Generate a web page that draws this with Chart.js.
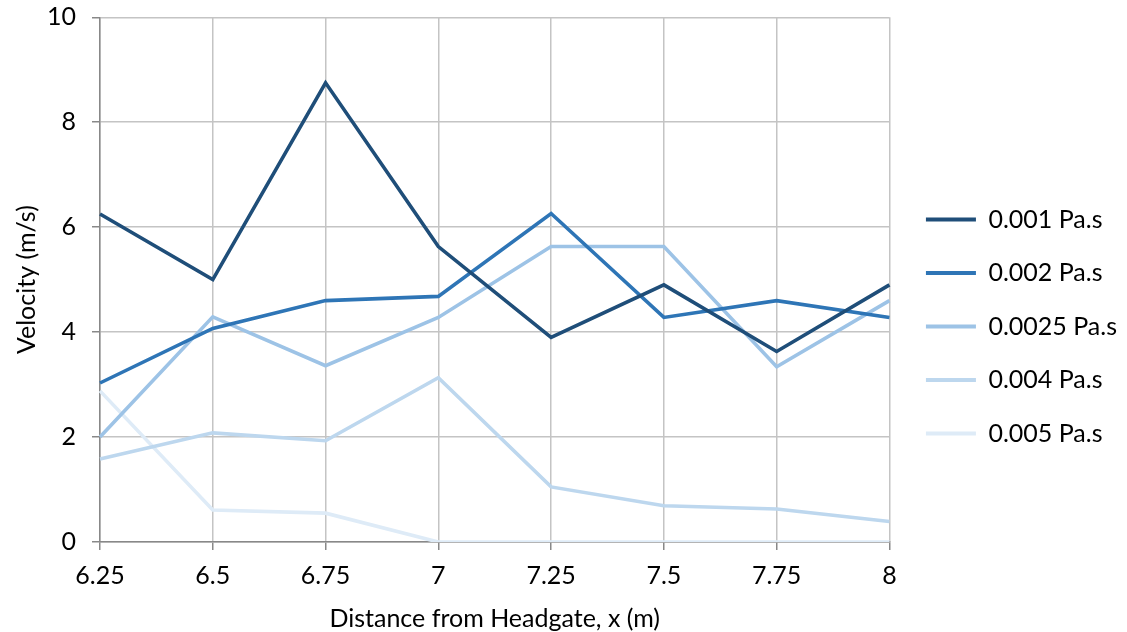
<!DOCTYPE html>
<html lang="en">
<head>
    <meta charset="UTF-8">
    <title>Velocity vs distance</title>
    <script src="https://cdn.jsdelivr.net/npm/chart.js"></script>
    <style>
        html, body {
            margin: 0;
            padding: 0;
            background: #fff;
        }
        #wrap {
            width: 1127px;
            height: 632px;
        }
    </style>
</head>
<body>
    <div id="wrap"><canvas id="chart"></canvas></div>

    <script>
        // distance from headgate (m)
        const distances = ["6.25", "6.5", "6.75", "7", "7.25", "7.5", "7.75", "8"];

        // velocity (m/s) for each viscosity
        const v0001 = [6.25, 5.0, 8.75, 5.63, 3.9, 4.9, 3.63, 4.9];
        const v0002 = [3.03, 4.07, 4.6, 4.68, 6.26, 4.28, 4.6, 4.28];
        const v00025 = [2.0, 4.29, 3.36, 4.28, 5.63, 5.63, 3.34, 4.6];
        const v0004 = [1.58, 2.08, 1.93, 3.13, 1.05, 0.69, 0.63, 0.39];
        const v0005 = [2.88, 0.61, 0.55, 0, 0, 0, 0, 0];

        const seriesNames = ["0.001 Pa.s", "0.002 Pa.s", "0.0025 Pa.s", "0.004 Pa.s", "0.005 Pa.s"];
        const seriesColors = ["#1f4e79", "#2e75b6", "#9dc3e6", "#bdd7ee", "#deebf7"];
        const yTicks = [0, 2, 4, 6, 8, 10];

        const font = "Lato, 'Open Sans', sans-serif";
        const allSeries = [v0001, v0002, v00025, v0004, v0005];

        const datasets = allSeries.map((vals, i) => ({
            label: seriesNames[i],
            data: vals,
            borderColor: seriesColors[i],
            backgroundColor: seriesColors[i],
            borderWidth: 3.6,
            pointRadius: 0,
            tension: 0,
            fill: false
        }));

        // push the legend a little right, like the excel original
        const legendNudge = {
            id: "legendNudge",
            afterLayout(chart) {
                const lg = chart.legend;
                lg.left += 8; lg.right += 8;
                lg.top += 1; lg.bottom += 1;
            }
        };

        new Chart(document.getElementById("chart"), {
            type: "line",
            data: { labels: distances, datasets: datasets },
            plugins: [legendNudge],
            options: {
                responsive: true,
                maintainAspectRatio: false,
                animation: false,
                layout: { autoPadding: false, padding: { left: 12, right: 8, top: 17, bottom: -2 } },
                plugins: {
                    tooltip: { enabled: false },
                    legend: {
                        position: "right",
                        labels: {
                            color: "#000",
                            font: { family: font, size: 25 },
                            boxWidth: 50,
                            boxHeight: 4,
                            padding: 28.5,
                            generateLabels: chart =>
                                Chart.defaults.plugins.legend.labels.generateLabels(chart)
                                    .map(l => ({ ...l, lineWidth: 0 }))
                        }
                    }
                },
                scales: {
                    x: {
                        type: "category",
                        offset: false,
                        grid: { color: "#c4c4c4", lineWidth: 1.5, tickColor: "#888", tickLength: 8 },
                        border: { color: "#888", width: 1.5 },
                        ticks: { color: "#000", font: { family: font, size: 25 }, padding: 11, maxRotation: 0 },
                        title: {
                            display: true,
                            text: "Distance from Headgate, x (m)",
                            color: "#000",
                            font: { family: font, size: 25 },
                            padding: { top: 2, bottom: 0 }
                        }
                    },
                    y: {
                        min: 0,
                        max: 10,
                        afterBuildTicks: s => { s.ticks = yTicks.map(v => ({ value: v })); },
                        grid: { color: "#c4c4c4", lineWidth: 1.5, tickColor: "#888", tickLength: 8 },
                        border: { color: "#888", width: 1.5 },
                        // small lineHeight so the top label does not push the plot down
                        ticks: { color: "#000", font: { family: font, size: 25, lineHeight: 0.1 }, padding: 16 },
                        title: {
                            display: true,
                            text: "Velocity (m/s)",
                            color: "#000",
                            font: { family: font, size: 25 },
                            padding: { top: 0, bottom: -11 }
                        }
                    }
                }
            }
        });
    </script>
</body>
</html>
